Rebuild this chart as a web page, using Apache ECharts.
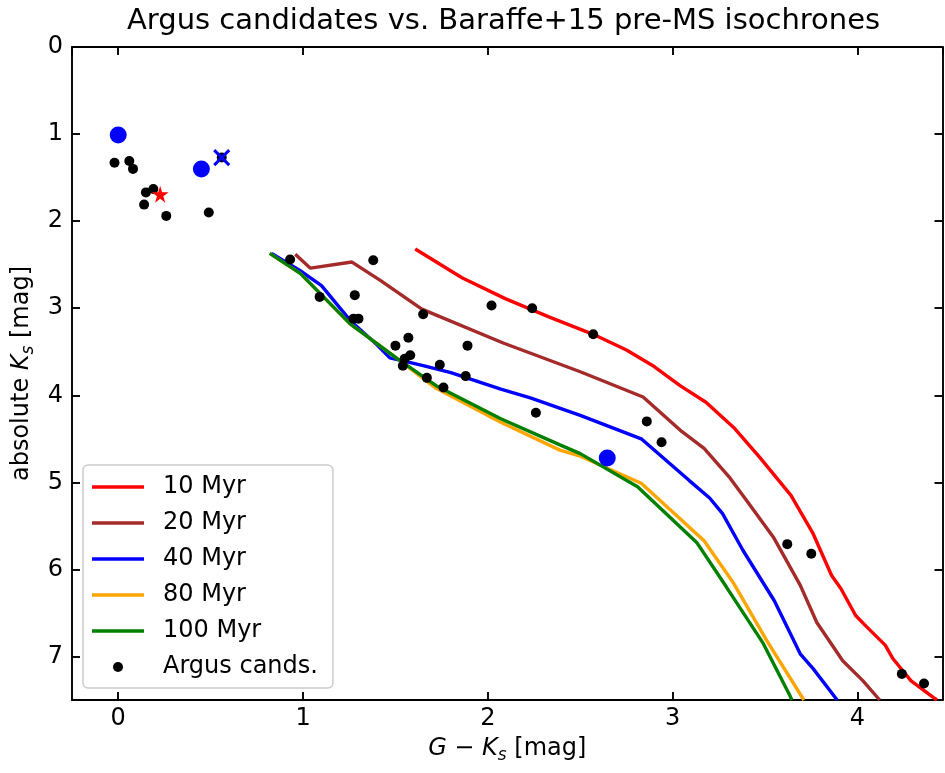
<!DOCTYPE html>
<html>
<head>
<meta charset="utf-8">
<script src="https://cdn.jsdelivr.net/npm/echarts@6/dist/echarts.min.js"></script>
<style>
html,body{margin:0;padding:0;background:#fff;}
#chart{width:945px;height:773px;}
</style>
</head>
<body>
<div id="chart"></div>
<script>
// ---- data (G-Ks, abs Ks) ----
const iso10 = [[1.607,2.32],[1.86,2.65],[2.094,2.89],[2.33,3.10],[2.57,3.30],[2.75,3.48],[2.90,3.67],[3.04,3.89],[3.18,4.08],[3.33,4.37],[3.47,4.71],[3.64,5.15],[3.76,5.59],[3.86,6.07],[3.91,6.22],[3.99,6.53],[4.05,6.66],[4.15,6.87],[4.19,7.02],[4.29,7.28],[4.41,7.47],[4.43,7.5]];
const iso20 = [[0.958,2.38],[1.04,2.54],[1.265,2.47],[1.418,2.68],[1.643,3.01],[2.083,3.40],[2.50,3.73],[2.84,4.02],[3.04,4.40],[3.17,4.61],[3.31,4.95],[3.40,5.21],[3.545,5.63],[3.69,6.18],[3.78,6.61],[3.92,7.05],[4.03,7.28],[4.12,7.5]];
const iso40 = [[0.83,2.37],[0.985,2.57],[1.10,2.74],[1.255,3.14],[1.40,3.42],[1.47,3.57],[1.57,3.62],[1.65,3.66],[1.80,3.74],[2.07,3.93],[2.23,4.03],[2.50,4.23],[2.83,4.50],[3.09,4.98],[3.20,5.18],[3.27,5.36],[3.38,5.78],[3.55,6.36],[3.69,6.97],[3.76,7.14],[3.89,7.5]];
const iso80 = [[0.82,2.37],[0.985,2.60],[1.255,3.18],[1.51,3.58],[1.72,3.92],[2.07,4.31],[2.39,4.63],[2.50,4.70],[2.83,5.01],[3.17,5.67],[3.33,6.16],[3.51,6.82],[3.71,7.5]];
const iso100 = [[0.82,2.37],[0.985,2.60],[1.255,3.18],[1.51,3.58],[1.72,3.89],[2.07,4.27],[2.39,4.57],[2.50,4.67],[2.81,5.05],[3.13,5.69],[3.29,6.20],[3.49,6.85],[3.63,7.43],[3.645,7.5]];
const argus = [[-0.02,1.33],[0.06,1.31],[0.08,1.40],[0.15,1.67],[0.19,1.63],[0.14,1.81],[0.26,1.94],[0.49,1.90],[0.56,1.27],
 [0.93,2.44],[1.38,2.45],[1.09,2.87],[1.28,2.85],[1.273,3.12],[1.30,3.12],[1.65,3.07],[1.50,3.43],[1.57,3.34],[1.58,3.54],[1.55,3.58],[1.54,3.66],[1.74,3.65],[1.67,3.80],[1.76,3.91],[1.88,3.78],[1.89,3.43],[2.02,2.97],
 [2.24,3.00],[2.57,3.30],[2.26,4.20],[2.86,4.30],[2.94,4.54],
 [3.62,5.71],[3.75,5.82],[4.24,7.20],[4.36,7.31]];
const blueCircles = [[0.0,1.01],[0.45,1.40],[2.646,4.72]];
const redStar = [[0.227,1.69]];
const blueCross = [[0.56,1.27]];
const names = ['10 Myr','20 Myr','40 Myr','80 Myr','100 Myr','Argus cands.'];
const colors = ['#ff0000','#a52a2a','#0000ff','#ffa500','#008000'];
const xMin = -0.25, xMax = 4.46, yMin = 0, yMax = 7.5;

const FONT = 'DejaVu Sans';
const chart = echarts.init(document.getElementById('chart'), null, {renderer:'canvas'});
const axLine = {show:true, onZero:false, lineStyle:{color:'#000', width:1.9}};
const axTick = {show:true, inside:true, length:8, lineStyle:{color:'#000', width:1.9}};
const intFmt = v => Math.abs(v - Math.round(v)) < 1e-6 ? String(Math.round(v)) : '';
const richName = {
  i:{fontFamily:FONT, fontStyle:'italic', fontSize:24, color:'#000', lineHeight:30, verticalAlign:'middle'},
  n:{fontFamily:FONT, fontSize:24, color:'#000', lineHeight:30, verticalAlign:'middle'},
  s:{fontFamily:FONT, fontStyle:'italic', fontSize:17, color:'#000', lineHeight:22, verticalAlign:'bottom'}};

function lineSeries(i, data){
  return {name:names[i], type:'line', data:data, symbol:'none', showSymbol:false,
    lineStyle:{color:colors[i], width:3.4}, itemStyle:{color:colors[i]}, z:2, animation:false, silent:true};
}
const lineIcon = 'path://M0,0 L52,0 L52,3.4 L0,3.4 Z';
const legendData = names.map((n, i) => i < 5
  ? {name:n, icon:lineIcon, itemStyle:{color:colors[i]}}
  : {name:n, icon:'circle', itemStyle:{color:'#000'}});

const option = {
  animation:false,
  title:{text:'Argus candidates vs. Baraffe+15 pre-MS isochrones', left:122, top:2,
    textStyle:{fontFamily:FONT, fontSize:29, fontWeight:'normal', color:'#000'}},
  grid:{left:72, right:2.5, top:47, bottom:73, containLabel:false},
  xAxis:[{type:'value', min:xMin, max:xMax, splitNumber:5, position:'bottom',
    axisLine:axLine, axisTick:axTick, splitLine:{show:false},
    axisLabel:{formatter:intFmt, fontFamily:FONT, fontSize:24, color:'#000', margin:7, showMinLabel:false, showMaxLabel:false},
    name:'{i|G} {n|−} {i|K}{s|s} {n|[mag]}', nameLocation:'middle', nameGap:34,
    nameTextStyle:{fontFamily:FONT, fontSize:24, color:'#000', rich:richName}},
   {type:'value', min:xMin, max:xMax, splitNumber:5, position:'top',
    axisLine:axLine, axisTick:axTick, splitLine:{show:false}, axisLabel:{show:false}}],
  yAxis:[{type:'value', min:yMin, max:yMax, interval:1, inverse:true, position:'left',
    axisLine:axLine, axisTick:axTick, splitLine:{show:false},
    axisLabel:{formatter:intFmt, fontFamily:FONT, fontSize:24, color:'#000', margin:9, showMaxLabel:false},
    name:'{n|absolute} {i|K}{s|s} {n|[mag]}', nameLocation:'middle', nameGap:30, nameRotate:90,
    nameTextStyle:{fontFamily:FONT, fontSize:24, color:'#000', rich:richName}},
   {type:'value', min:yMin, max:yMax, interval:1, inverse:true, position:'right',
    axisLine:axLine, axisTick:axTick, splitLine:{show:false}, axisLabel:{show:false}}],
  legend:{orient:'vertical', left:83, top:465, data:legendData,
    itemWidth:52, itemHeight:10, itemGap:12, padding:[10,15,9,9],
    backgroundColor:'rgba(255,255,255,0.8)', borderColor:'#cccccc', borderWidth:1.5, borderRadius:5,
    selectedMode:false,
    textStyle:{fontFamily:FONT, fontSize:24, color:'#000', lineHeight:24, padding:[0,0,0,14]}},
  series:[
    lineSeries(0, iso10), lineSeries(1, iso20), lineSeries(2, iso40), lineSeries(3, iso80), lineSeries(4, iso100),
    {name:'Argus cands.', type:'scatter', data:argus, symbol:'circle', symbolSize:10,
      itemStyle:{color:'#000', opacity:1}, z:3, silent:true},
    {name:'hl-circles', type:'scatter', data:blueCircles, symbol:'circle', symbolSize:17,
      itemStyle:{color:'#0000ff', opacity:1}, z:4, silent:true},
    {name:'hl-star', type:'scatter', data:redStar,
      symbol:'path://M50,0 L61,35 L98,35 L68,57 L79,91 L50,70 L21,91 L32,57 L2,35 L39,35 Z', symbolSize:17,
      itemStyle:{color:'#ff0000', opacity:1}, z:4, silent:true},
    {name:'hl-cross', type:'scatter', data:blueCross,
      symbol:'path://M0,0 L10,10 M10,0 L0,10', symbolSize:15,
      itemStyle:{color:'rgba(0,0,0,0)', borderColor:'#0000ff', borderWidth:3, opacity:1}, z:4, silent:true}
  ]
};
chart.setOption(option);
</script>
</body>
</html>
